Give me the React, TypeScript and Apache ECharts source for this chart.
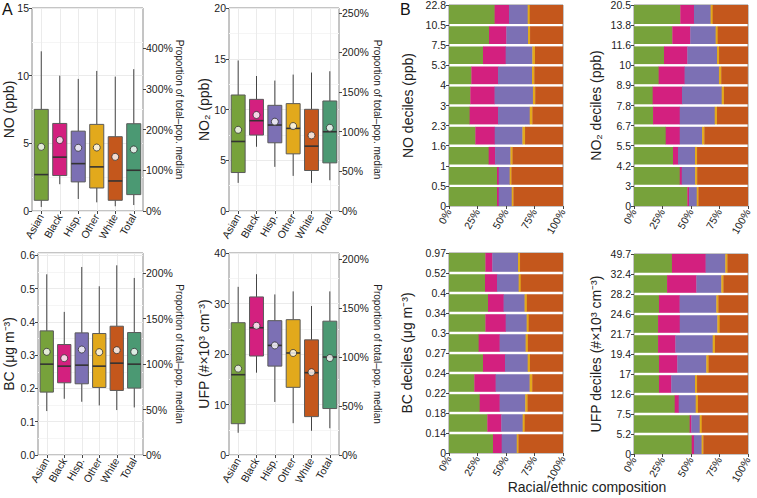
import React, { useEffect, useRef } from "react";
import * as echarts from "echarts";

// ---------- Data ----------
const groups = ["Asian", "Black", "Hisp.", "Other", "White", "Total"];
const groupColors = ["#77A23B", "#D3207F", "#7C70B4", "#E2A91C", "#C4571C", "#4B9973"];

// box stats per group: [lower whisker, Q1, median, Q3, upper whisker]
const noBoxes = [
  [0.3, 0.79, 2.69, 7.51, 11.8],
  [1.98, 2.62, 3.98, 6.47, 10.0],
  [0.89, 2.15, 3.5, 5.9, 9.76],
  [0.64, 1.7, 3.26, 6.4, 10.35],
  [0.35, 0.79, 2.22, 5.49, 9.93],
  [0.44, 1.21, 3.01, 6.45, 10.48],
];
const noMeans = [4.74, 5.24, 4.67, 4.69, 4.0, 4.55];

const no2Boxes = [
  [2.77, 3.79, 6.85, 11.43, 14.83],
  [6.33, 7.48, 8.9, 11.0, 13.3],
  [4.35, 6.72, 8.47, 10.41, 12.85],
  [3.46, 5.63, 8.14, 10.58, 13.44],
  [2.77, 3.99, 6.39, 10.02, 13.64],
  [3.03, 4.74, 7.81, 10.84, 13.77],
];
const no2Means = [8.0, 9.46, 8.8, 8.37, 7.45, 8.2];

const bcBoxes = [
  [0.132, 0.189, 0.273, 0.373, 0.543],
  [0.169, 0.217, 0.267, 0.332, 0.43],
  [0.16, 0.214, 0.27, 0.367, 0.565],
  [0.149, 0.203, 0.267, 0.365, 0.507],
  [0.135, 0.194, 0.276, 0.387, 0.57],
  [0.143, 0.201, 0.273, 0.368, 0.532],
];
const bcMeans = [0.31, 0.291, 0.317, 0.309, 0.315, 0.31];

const ufpBoxes = [
  [4.4, 6.2, 15.9, 26.2, 33.3],
  [16.3, 19.6, 25.2, 31.3, 35.8],
  [10.5, 17.6, 21.7, 26.6, 31.8],
  [6.3, 13.4, 20.2, 26.8, 32.4],
  [4.8, 7.6, 16.3, 22.8, 29.5],
  [5.3, 9.2, 19.4, 26.5, 32.4],
];
const ufpMeans = [17.1, 25.6, 21.7, 20.2, 16.4, 19.2];

// Decile boundaries (bottom to top)
const noDecileTicks = ["0", "0.5", "1", "1.6", "2.3", "3", "4", "5.3", "7.5", "10.5", "22.8"];
const no2DecileTicks = ["0", "3", "4.2", "5.5", "6.7", "7.8", "8.9", "10", "11.6", "13.8", "20.5"];
const bcDecileTicks = ["0", "0.14", "0.18", "0.22", "0.24", "0.27", "0.3", "0.34", "0.4", "0.52", "0.97"];
const ufpDecileTicks = ["0", "5.2", "7.5", "12.6", "17", "19.4", "21.7", "24.6", "28.2", "32.4", "49.7"];

// Racial/ethnic composition (%) per decile, bottom decile first
const noAsian = [42.1, 42.1, 34.8, 23.1, 18.1, 18.7, 19.6, 29.8, 35.1, 40.0];
const noBlack = [1.5, 1.5, 5.6, 17.0, 24.9, 21.3, 23.4, 19.9, 15.2, 12.6];
const noHisp = [11.4, 9.6, 13.5, 24.3, 27.8, 33.6, 29.8, 23.4, 19.0, 16.4];
const noOther = [1.5, 1.5, 1.8, 2.3, 2.3, 2.0, 2.0, 2.3, 1.8, 1.8];
const noWhite = [43.5, 45.3, 44.3, 33.3, 26.9, 24.4, 25.2, 24.6, 28.9, 29.2];

const no2Asian = [46.8, 40.1, 34.2, 27.8, 16.7, 16.4, 21.6, 26.3, 33.6, 40.6];
const no2Black = [1.5, 1.8, 4.4, 12.3, 23.4, 25.7, 22.8, 20.5, 15.8, 12.0];
const no2Hisp = [6.7, 11.7, 14.9, 19.6, 30.7, 34.8, 30.1, 26.0, 22.2, 14.6];
const no2Other = [1.5, 1.8, 1.8, 2.0, 2.0, 2.0, 2.0, 1.8, 1.8, 1.8];
const no2White = [43.5, 44.6, 44.7, 38.3, 27.2, 21.1, 23.4, 25.4, 26.6, 31.0];

const bcAsian = [38.6, 33.6, 26.9, 22.2, 29.8, 26.0, 31.9, 34.2, 31.6, 31.9];
const bcBlack = [7.6, 12.3, 17.5, 18.7, 19.3, 18.4, 17.8, 13.7, 10.5, 6.1];
const bcHisp = [13.2, 18.7, 22.5, 29.8, 19.9, 22.8, 18.4, 18.4, 19.0, 22.5];
const bcOther = [1.5, 1.8, 2.0, 2.3, 2.0, 2.0, 1.8, 2.0, 1.8, 1.8];
const bcWhite = [39.1, 33.6, 31.1, 27.0, 29.0, 30.8, 30.1, 31.7, 37.1, 37.7];

const ufpAsian = [50.6, 48.8, 35.7, 21.9, 21.9, 21.1, 21.1, 21.9, 29.0, 33.3];
const ufpBlack = [2.0, 1.5, 3.5, 10.8, 16.1, 15.2, 19.0, 18.1, 25.7, 29.5];
const ufpHisp = [6.7, 7.3, 14.9, 20.8, 25.4, 32.7, 33.0, 32.2, 21.9, 17.3];
const ufpOther = [1.5, 1.8, 2.0, 1.8, 2.0, 2.0, 2.0, 1.8, 1.8, 1.8];
const ufpWhite = [39.2, 40.6, 43.9, 44.7, 34.6, 29.0, 24.9, 26.0, 21.6, 18.1];

const pctTicks = ["0%", "25%", "50%", "75%", "100%"];

// ---------- Styling ----------
const FONT = "'Liberation Sans', Arial, Helvetica, sans-serif";
const TXT = "#222";
const BORDER = "#8a8a8a";
const GRID_MAJOR = "#EBEBEB";
const GRID_MINOR = "#F5F5F5";

const boxPanels = [
  { boxes: noBoxes, means: noMeans, title: "NO (ppb)", yMax: 15, yInt: 5, pctInt: 100, dec: 0, hideMax: false,
    grid: { left: 32, top: 8, width: 111, height: 203 }, nameGap: 16, rGap: 31 },
  { boxes: no2Boxes, means: no2Means, title: "NO\u2082 (ppb)", yMax: 20, yInt: 5, pctInt: 50, dec: 0, hideMax: false,
    grid: { left: 229, top: 8, width: 110, height: 203 }, nameGap: 18, rGap: 33 },
  { boxes: bcBoxes, means: bcMeans, title: "BC (\u03bcg m\u207b\u00b3)", yMax: 0.607, yInt: 0.1, pctInt: 50, dec: 1, hideMax: true,
    grid: { left: 38, top: 253, width: 105, height: 202 }, nameGap: 22, rGap: 31 },
  { boxes: ufpBoxes, means: ufpMeans, title: "UFP (#\u00d710\u00b3 cm\u207b\u00b3)", yMax: 40, yInt: 10, pctInt: 50, dec: 0, hideMax: false,
    grid: { left: 229, top: 253, width: 110, height: 202 }, nameGap: 18, rGap: 33 },
];

const decilePanels = [
  { ticks: noDecileTicks, shares: [noAsian, noBlack, noHisp, noOther, noWhite], title: "NO deciles (ppb)",
    grid: { left: 449, top: 5, width: 114, height: 201 }, nameGap: 34 },
  { ticks: no2DecileTicks, shares: [no2Asian, no2Black, no2Hisp, no2Other, no2White], title: "NO\u2082 deciles (ppb)",
    grid: { left: 634, top: 5, width: 114, height: 201 }, nameGap: 31 },
  { ticks: bcDecileTicks, shares: [bcAsian, bcBlack, bcHisp, bcOther, bcWhite], title: "BC deciles (\u03bcg m\u207b\u00b3)",
    grid: { left: 449, top: 253, width: 114, height: 200 }, nameGap: 35 },
  { ticks: ufpDecileTicks, shares: [ufpAsian, ufpBlack, ufpHisp, ufpOther, ufpWhite], title: "UFP deciles (#\u00d710\u00b3 cm\u207b\u00b3)",
    grid: { left: 634, top: 254, width: 114, height: 200 }, nameGap: 31 },
];

function buildOption() {
  const grid: any[] = [];
  const xAxis: any[] = [];
  const yAxis: any[] = [];
  const series: any[] = [];

  boxPanels.forEach((p) => {
    const gi = grid.length;
    grid.push({ ...p.grid, show: true, borderColor: BORDER, borderWidth: 1, backgroundColor: "#fff", containLabel: false, outerBoundsMode: "none" });
    const xi = xAxis.length;
    xAxis.push({
      type: "category", gridIndex: gi, data: groups, boundaryGap: true,
      axisLine: { show: false },
      axisTick: { show: true, alignWithLabel: true, length: 3, lineStyle: { color: "#444" } },
      axisLabel: { rotate: 60, fontSize: 10.5, color: TXT, margin: 4, fontFamily: FONT, interval: 0 },
      splitLine: { show: true, alignWithLabel: true, lineStyle: { color: GRID_MAJOR, width: 1 } },
    });
    const totalMedian = p.boxes[5][2];
    const pctMax = (p.yMax / totalMedian) * 100;
    const yi = yAxis.length;
    yAxis.push({
      type: "value", gridIndex: gi, min: 0, max: p.yMax, interval: p.yInt, position: "left",
      name: p.title, nameLocation: "middle", nameGap: p.nameGap, nameMoveOverlap: false,
      nameTextStyle: { fontSize: 14, color: TXT, fontFamily: FONT },
      axisLine: { show: false },
      axisTick: { show: true, length: 3, lineStyle: { color: "#444" } },
      axisLabel: { fontSize: 10.5, color: TXT, margin: 3, fontFamily: FONT, showMaxLabel: !p.hideMax,
        formatter: (v: number) => v.toFixed(p.dec) },
      splitLine: { show: true, lineStyle: { color: GRID_MAJOR, width: 1 } },
      minorTick: { show: false, splitNumber: 2 },
      minorSplitLine: { show: true, lineStyle: { color: GRID_MINOR, width: 1 } },
    });
    yAxis.push({
      type: "value", gridIndex: gi, min: 0, max: pctMax, interval: p.pctInt, position: "right",
      name: "Proportion of total\u2013pop. median", nameLocation: "middle", nameGap: p.rGap, nameRotate: -90,
      nameMoveOverlap: false,
      nameTextStyle: { fontSize: 10, color: TXT, fontFamily: FONT },
      axisLine: { show: false },
      axisTick: { show: true, length: 3, lineStyle: { color: "#444" } },
      axisLabel: { fontSize: 10.5, color: TXT, margin: 3, fontFamily: FONT, showMaxLabel: false,
        formatter: (v: number) => `${Math.round(v)}%` },
      splitLine: { show: false },
    });
    series.push({
      type: "custom", xAxisIndex: xi, yAxisIndex: yi,
      encode: { x: 0, y: [1, 2, 3, 4, 5] },
      data: p.boxes.map((b, i) => [i, ...b]),
      renderItem: (params: any, api: any) => {
        const c = api.value(0);
        const lo = api.coord([c, api.value(1)]);
        const q1 = api.coord([c, api.value(2)]);
        const md = api.coord([c, api.value(3)]);
        const q3 = api.coord([c, api.value(4)]);
        const hi = api.coord([c, api.value(5)]);
        const bw = api.size([1, 0])[0] * 0.76;
        const x = lo[0];
        return {
          type: "group",
          children: [
            { type: "line", shape: { x1: x, y1: lo[1], x2: x, y2: q1[1] }, style: { stroke: "#444", lineWidth: 1 } },
            { type: "line", shape: { x1: x, y1: q3[1], x2: x, y2: hi[1] }, style: { stroke: "#444", lineWidth: 1 } },
            { type: "rect", shape: { x: x - bw / 2, y: q3[1], width: bw, height: q1[1] - q3[1] },
              style: { fill: groupColors[c], stroke: "#5a5a5a", lineWidth: 1 } },
            { type: "line", shape: { x1: x - bw / 2, y1: md[1], x2: x + bw / 2, y2: md[1] }, style: { stroke: "#333", lineWidth: 1.6 } },
          ],
        };
      },
      z: 2,
    });
    series.push({
      type: "scatter", xAxisIndex: xi, yAxisIndex: yi,
      data: p.means.map((m, i) => [i, m]),
      symbol: "circle", symbolSize: 7,
      itemStyle: { color: "#fff", borderColor: "#333", borderWidth: 1 },
      z: 3,
    });
  });

  decilePanels.forEach((p) => {
    const gi = grid.length;
    grid.push({ ...p.grid, show: true, borderColor: BORDER, borderWidth: 1, backgroundColor: "#fff", containLabel: false, outerBoundsMode: "none" });
    const xi = xAxis.length;
    xAxis.push({
      type: "value", gridIndex: gi, min: 0, max: 100, interval: 25,
      axisLine: { show: false },
      axisTick: { show: true, length: 3, lineStyle: { color: "#444" } },
      axisLabel: { rotate: 60, fontSize: 10.5, color: TXT, margin: 4, fontFamily: FONT,
        formatter: (v: number) => pctTicks[Math.round(v / 25)] },
      splitLine: { show: false },
    });
    const yi = yAxis.length;
    yAxis.push({
      type: "value", gridIndex: gi, min: 0, max: 10, interval: 1,
      name: p.title, nameLocation: "middle", nameGap: p.nameGap, nameMoveOverlap: false,
      nameTextStyle: { fontSize: 14, color: TXT, fontFamily: FONT },
      axisLine: { show: false },
      axisTick: { show: true, length: 3, lineStyle: { color: "#444" } },
      axisLabel: { fontSize: 10.5, color: TXT, margin: 3, fontFamily: FONT,
        formatter: (v: number) => p.ticks[Math.round(v)] },
      splitLine: { show: false },
    });
    const data: number[][] = [];
    for (let d = 0; d < 10; d++) {
      let acc = 0;
      p.shares.forEach((arr, g) => {
        data.push([acc, acc + arr[d], d, g]);
        acc += arr[d];
      });
    }
    series.push({
      type: "custom", xAxisIndex: xi, yAxisIndex: yi,
      encode: { x: [0, 1], y: 2 },
      data,
      renderItem: (params: any, api: any) => {
        const s = api.value(0), e = api.value(1), d = api.value(2), g = api.value(3);
        const p0 = api.coord([s, d]);
        const p1 = api.coord([Math.min(e + (g === 4 ? 0 : 0.3), 100), d + 1]);
        const top = p1[1] + (d === 9 ? 0 : 1.2);
        const bottom = p0[1] - (d === 0 ? 0 : 1.2);
        return {
          type: "rect",
          shape: { x: p0[0], y: top, width: p1[0] - p0[0], height: bottom - top },
          style: { fill: groupColors[g] },
        };
      },
      z: 2,
    });
  });

  return {
    animation: false,
    backgroundColor: "#fff",
    textStyle: { fontFamily: FONT },
    grid, xAxis, yAxis, series,
    graphic: [
      { type: "text", left: 2, top: 1, style: { text: "A", fontSize: 16, fill: "#111", fontFamily: FONT } },
      { type: "text", left: 400, top: 1, style: { text: "B", fontSize: 16, fill: "#111", fontFamily: FONT } },
      { type: "text", x: 587, y: 487, style: { text: "Racial/ethnic composition", fontSize: 14, fill: TXT, fontFamily: FONT, align: "center", verticalAlign: "middle" } },
    ],
  };
}

export default function App() {
  const ref = useRef<HTMLDivElement>(null);
  useEffect(() => {
    if (!ref.current) return;
    const chart = echarts.init(ref.current, undefined, { renderer: "svg" });
    chart.setOption(buildOption() as any);
    return () => chart.dispose();
  }, []);
  return <div ref={ref} style={{ position: "absolute", left: 0, top: 0, width: 757, height: 498 }} />;
}
